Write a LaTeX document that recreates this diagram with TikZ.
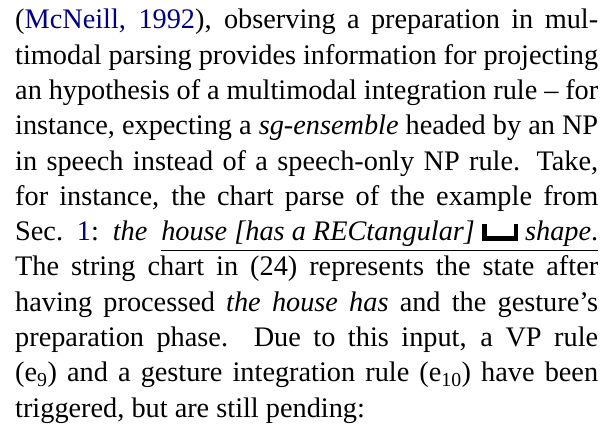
\documentclass[tikz,border=0pt]{standalone}
\usepackage{fontspec}
\setmainfont{Liberation Serif}
\definecolor{darkblue}{rgb}{0,0,0.5}
\newcommand\gestglyph{\rule{4.5bp}{17bp}\rule{27bp}{4.5bp}\rule{4.5bp}{17bp}}
\newcommand\jline[1]{\hbox to 583bp{#1}}
\newcommand\myul[1]{\vtop{\hbox{#1}\kern3bp\hrule height 0.9bp}}
\begin{document}
\begin{tikzpicture}[x=1bp,y=1bp]
\useasboundingbox (0,0) rectangle (613,-434);
\node[inner sep=0pt, anchor=north west] (para) at (15,-9) {\vbox{\fontsize{28.3bp}{35.3bp}\selectfont
\jline{(\textcolor{darkblue}{McNeill, 1992}), observing a preparation in mul-}
\jline{timodal parsing provides information for projecting}
\jline{an hypothesis of a multimodal integration rule – for}
\jline{instance, expecting a \textit{sg-ensemble} headed by an NP}
\jline{in speech instead of a speech-only NP rule. Take,}
\jline{for instance, the chart parse of the example from}
\jline{Sec.~\textcolor{darkblue}{1}:\ \textit{the} \myul{\textit{house [has a RECtangular]}\ \gestglyph\ \textit{shape}.}}
\jline{The string chart in (24) represents the state after}
\jline{having processed \textit{the house has} and the gesture’s}
\jline{preparation phase. Due to this input, a VP rule}
\jline{(e\textsubscript{9}) and a gesture integration rule (e\textsubscript{10}) have been}
\hbox{triggered, but are still pending:}
}};
\end{tikzpicture}
\end{document}
